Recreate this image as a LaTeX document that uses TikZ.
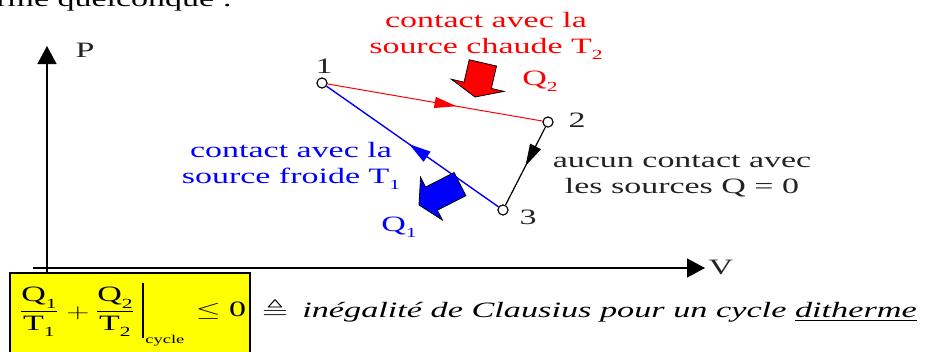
\documentclass[tikz,border=0pt]{standalone}
\usepackage{fontspec}
\usepackage{amssymb}
\setmainfont{Liberation Serif}
\usetikzlibrary{arrows.meta,decorations.markings}
\newcommand\subx[1]{\raisebox{-0.28em}{\fontsize{14}{14}\selectfont #1}}
\definecolor{hotred}{RGB}{255,0,0}
\definecolor{coldblue}{RGB}{0,0,255}
\definecolor{txtgray}{RGB}{35,35,35}
\definecolor{boxyellow}{RGB}{255,255,0}
\begin{document}
\begin{tikzpicture}[x=1bp,y=-1bp,
  lab/.style={font=\fontsize{22}{26}\selectfont, inner sep=0pt, xscale=1.55, align=center, text=txtgray},
  vtx/.style={circle, draw=black, fill=white, minimum size=10bp, inner sep=0pt, line width=1bp},
  axis/.style={line width=1.3bp, -{Triangle[length=18bp,width=19bp]}},
  midarrow/.style 2 args={postaction={decorate}, decoration={markings,
      mark=at position #1 with {\arrow{Triangle[length=22bp,width=#2]}}}},
  fatarrow/.style={draw=black, line width=0.8bp, line join=miter}
]
\useasboundingbox (0,0) rectangle (925,351);
\clip (0,0) rectangle (925,351);

% cut text at top
\node[lab, anchor=base west, text=black] (toptxt) at (-4,6) {rme quelconque :};

% axes
\coordinate (ybot) at (47,273);
\coordinate (ytop) at (47,46);
\coordinate (xleft) at (33,268);
\coordinate (xright) at (705,268);
\draw[axis] (ybot) -- (ytop);
\draw[axis] (xleft) -- (xright);
\node[lab] (P) at (85,50) {P};
\node[lab] (V) at (721,267) {V};

% vertices
\node[vtx] (p1) at (322,83) {};
\node[vtx] (p2) at (548,122) {};
\node[vtx] (p3) at (503,210) {};

\draw[hotred, line width=1bp, midarrow={0.6}{11bp}] (p1) -- (p2);
\draw[coldblue, line width=1.4bp, midarrow={0.52}{12bp}] (p3) -- (p1);
\draw[black, line width=1.2bp, midarrow={0.5}{12bp}] (p2) -- (p3);
\node[vtx] at (p1) {};
\node[vtx] at (p2) {};
\node[vtx] at (p3) {};

\node[lab] (n1) at (324,66) {1};
\node[lab] (n2) at (577,120) {2};
\node[lab] (n3) at (528,217) {3};

% red heat arrow
\begin{scope}[shift={(475,97)}, rotate=-103]
  \filldraw[fatarrow, fill=hotred] (-35,-14) -- (-12,-14) -- (-12,-27) -- (0,0) -- (-12,27) -- (-12,14) -- (-35,14) -- cycle;
\end{scope}
% blue heat arrow
\begin{scope}[shift={(419,205)}, rotate=207]
  \filldraw[fatarrow, fill=coldblue] (-46,-13) -- (-14,-13) -- (-14,-24) -- (0,0) -- (-14,24) -- (-14,13) -- (-46,13) -- cycle;
\end{scope}

% labels
\node[lab, text=hotred] (hot) at (486,36) {contact avec la\\source chaude T\subx{2}};
\node[lab, text=hotred] (Q2) at (540,81) {Q\subx{2}};
\node[lab, text=coldblue] (cold) at (291,166) {contact avec la\\source froide T\subx{1}};
\node[lab, text=coldblue] (Q1) at (399,227) {Q\subx{1}};
\node[lab] (adiab) at (682,176) {aucun contact avec\\les sources Q = 0};

% formula box
\fill[boxyellow] (10,273) rectangle (250,360);
\draw[line width=2bp] (10,273) rectangle (250,360);
\node[lab, text=black] (f1) at (39,312) {$\displaystyle\frac{\hbox{Q\subx{1}}}{\hbox{T\subx{1}}}$};
\node[lab, text=black] (plus) at (78,313) {$+$};
\node[lab, text=black] (f2) at (115,312) {$\displaystyle\frac{\hbox{Q\subx{2}}}{\hbox{T\subx{2}}}$};
\coordinate (bartop) at (143,283);
\coordinate (barbot) at (143,338);
\draw[line width=1.3bp] (bartop) -- (barbot);
\node[lab, text=black, font=\fontsize{12}{12}\selectfont, anchor=base west] (cyc) at (145,343) {cycle};
\node[lab, text=black] (le) at (221,311) {$\leq$ 0};

\node[lab, text=black] (eqdef) at (275,309) {$\triangleq$};
\node[lab, text=black, anchor=base west, xscale=1.008] (claus) at (302,317) {\itshape inégalité de Clausius pour un cycle \underline{ditherme}};
\end{tikzpicture}
\end{document}
